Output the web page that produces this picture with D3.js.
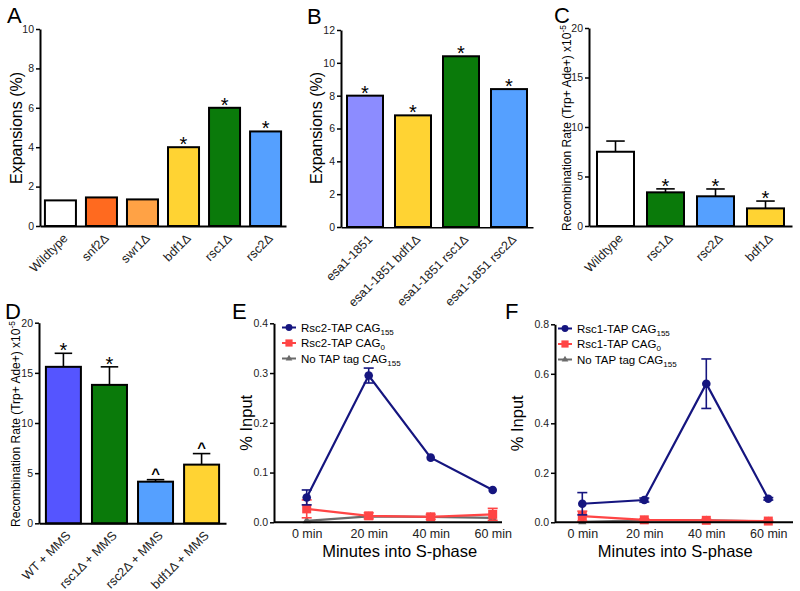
<!DOCTYPE html>
<html><head><meta charset="utf-8">
<script src="https://cdn.jsdelivr.net/npm/d3@7"></script>
<style>
body{margin:0;background:#fff;}
svg{font-family:"Liberation Sans",Arial,Helvetica,sans-serif;}
</style></head>
<body><svg id="c" width="800" height="591"></svg>
<script>
// ---- Panel A ----
const catsA = ["Wildtype","snf2Δ","swr1Δ","bdf1Δ","rsc1Δ","rsc2Δ"];
const valsA = [1.3,1.45,1.35,4.0,6.0,4.8];
const sigA  = ["","","","*","*","*"];
const colA  = ["#ffffff","#ff6a1f","#ffa245","#ffd333","#0a7a0a","#55a0ff"];
const ticksA = [0,2,4,6,8,10];
// ---- Panel B ----
const catsB = ["esa1-1851","esa1-1851 bdf1Δ","esa1-1851 rsc1Δ","esa1-1851 rsc2Δ"];
const valsB = [8.0,6.8,10.4,8.4];
const sigB  = ["*","*","*","*"];
const colB  = ["#8c8cff","#ffd333","#0a7a0a","#55a0ff"];
const ticksB = [0,2,4,6,8,10,12];
// ---- Panel C ----
const catsC = ["Wildtype","rsc1Δ","rsc2Δ","bdf1Δ"];
const valsC = [7.5,3.4,3.0,1.78];
const errC  = [1.08,0.35,0.74,0.74];
const sigC  = ["","*","*","*"];
const colC  = ["#ffffff","#0a7a0a","#55a0ff","#ffd333"];
const ticksC = [0,5,10,15,20];
// ---- Panel D ----
const catsD = ["WT + MMS","rsc1Δ + MMS","rsc2Δ + MMS","bdf1Δ + MMS"];
const valsD = [15.6,13.8,4.15,5.85];
const errD  = [1.35,1.8,0.2,1.1];
const sigD  = ["*","*","^","^"];
const colD  = ["#5555ff","#0a7a0a","#55a0ff","#ffd333"];
const ticksD = [0,5,10,15,20];
// ---- Panel E ----
const timeCats = ["0 min","20 min","40 min","60 min"];
const e1 = [0.05,0.295,0.13,0.065];   const e1err = [0.015,0.015,0,0];
const e2 = [0.027,0.013,0.011,0.016]; const e2err = [0.018,0.006,0.005,0.012];
const e3 = [0.003,0.012,0.011,0.009]; const e3err = [0,0,0,0];
const ticksE = [0,0.1,0.2,0.3,0.4];
const legE = ["Rsc2-TAP CAG|155","Rsc2-TAP CAG|0","No TAP tag CAG|155"];
// ---- Panel F ----
const f1 = [0.075,0.09,0.56,0.095];   const f1err = [0.045,0.008,0.1,0.005];
const f2 = [0.025,0.01,0.008,0.005];  const f2err = [0.02,0.004,0.004,0.003];
const f3 = [0.002,0.008,0.008,0.004]; const f3err = [0,0,0,0];
const ticksF = [0,0.2,0.4,0.6,0.8];
const legF = ["Rsc1-TAP CAG|155","Rsc1-TAP CAG|0","No TAP tag CAG|155"];

const NAVY="#15157f", RED="#ff4545", GRAY="#6a6a6a";
const svg = d3.select("#c");

function letter(t,x,y){
  svg.append("text").attr("x",x).attr("y",y).attr("font-size",22).text(t);
}
function ylabel(g,x,y,size,main,sup){
  const t=g.append("text").attr("transform",`translate(${x},${y}) rotate(-90)`)
    .attr("text-anchor","middle").attr("font-size",size).text(main);
  if(sup){ t.append("tspan").attr("dy",-size*0.4).attr("font-size",size*0.7).text(sup); }
}
function styleAxis(a){
  a.select(".domain").attr("stroke","#000").attr("stroke-width",2);
  a.selectAll(".tick line").attr("stroke","#000").attr("stroke-width",1.5);
  a.selectAll(".tick text").attr("fill","#222");
}

function barPanel(o){
  const g = svg.append("g");
  const x = d3.scaleBand().domain(o.cats).range([o.x0,o.x1]).paddingInner(o.pi).paddingOuter(o.po);
  const y = d3.scaleLinear().domain([0,o.max]).range([o.y0,o.y1]);
  g.selectAll("rect.bar").data(o.vals).join("rect").attr("class","bar")
    .attr("x",(d,i)=>x(o.cats[i])).attr("width",x.bandwidth())
    .attr("y",d=>y(d)).attr("height",d=>y(0)-y(d))
    .attr("fill",(d,i)=>o.cols[i]).attr("stroke","#000").attr("stroke-width",2);
  if(o.err){
    o.vals.forEach((v,i)=>{
      const cx = x(o.cats[i])+x.bandwidth()/2, hw = x.bandwidth()*0.25;
      g.append("line").attr("x1",cx).attr("x2",cx).attr("y1",y(v)).attr("y2",y(v+o.err[i])).attr("stroke","#000").attr("stroke-width",1.6);
      g.append("line").attr("x1",cx-hw).attr("x2",cx+hw).attr("y1",y(v+o.err[i])).attr("y2",y(v+o.err[i])).attr("stroke","#000").attr("stroke-width",1.6);
    });
  }
  o.vals.forEach((v,i)=>{
    const s=o.sig[i]; if(!s) return;
    const top = y(v+(o.err?o.err[i]:0));
    const cx = x(o.cats[i])+x.bandwidth()/2;
    if(s==="*") g.append("text").attr("x",cx).attr("y",top+4).attr("text-anchor","middle").attr("font-size",20).text("*");
    else g.append("text").attr("x",cx).attr("y",top-1).attr("text-anchor","middle").attr("font-size",15).attr("font-weight","bold").text("^");
  });
  const ya = g.append("g").attr("transform",`translate(${o.x0},0)`)
    .call(d3.axisLeft(y).tickValues(o.ticks).tickSize(4).tickSizeOuter(0).tickPadding(2).tickFormat(d3.format("d")));
  ya.attr("font-size",10.5).attr("font-family",null);
  styleAxis(ya);
  const xa = g.append("g").attr("transform",`translate(0,${o.y0})`)
    .call(d3.axisBottom(x).tickSize(0).tickSizeOuter(0));
  xa.attr("font-size",12.5).attr("font-family",null);
  styleAxis(xa);
  xa.selectAll(".tick text").attr("x",0).attr("y",0).attr("dy","0.35em")
    .attr("transform","translate(5,10) rotate(-45)").style("text-anchor","end");
  if(o.clipY){
    const id="clip"+Math.round(o.x0);
    svg.append("clipPath").attr("id",id).append("rect").attr("x",o.x0-100).attr("y",0).attr("width",400).attr("height",o.clipY);
    xa.attr("clip-path",`url(#${id})`);
  }
  ylabel(g,o.lx,o.ly,o.lsize,o.label,o.sup);
}

function linePanel(o){
  const g = svg.append("g");
  const x = d3.scalePoint().domain(timeCats).range([o.px0,o.px1]);
  const y = d3.scaleLinear().domain([0,o.max]).range([o.y0,o.y1]);
  const series=[
    {v:o.s3,e:o.e3,c:GRAY,m:"tri"},
    {v:o.s2,e:o.e2,c:RED,m:"sq"},
    {v:o.s1,e:o.e1,c:NAVY,m:"circ"}
  ];
  const line = d3.line().x((d,i)=>x(timeCats[i])).y(d=>y(d));
  series.forEach(s=>{
    g.append("path").attr("d",line(s.v)).attr("fill","none").attr("stroke",s.c).attr("stroke-width",2.2);
    s.v.forEach((v,i)=>{
      const cx=x(timeCats[i]); const er=s.e[i];
      if(er>0){
        g.append("line").attr("x1",cx).attr("x2",cx).attr("y1",y(v-er)).attr("y2",y(v+er)).attr("stroke",s.c).attr("stroke-width",1.6);
        [v-er,v+er].forEach(t=>g.append("line").attr("x1",cx-5).attr("x2",cx+5).attr("y1",y(t)).attr("y2",y(t)).attr("stroke",s.c).attr("stroke-width",1.6));
      }
      marker(g,s.m,cx,y(v),s.c,1);
    });
  });
  const ya = g.append("g").attr("transform",`translate(${o.x0},0)`)
    .call(d3.axisLeft(y).tickValues(o.ticks).tickSize(4).tickSizeOuter(0).tickPadding(2).tickFormat(d3.format(".1f")));
  ya.attr("font-size",10.5).attr("font-family",null);
  styleAxis(ya);
  const xa = g.append("g").attr("transform",`translate(0,${o.y0})`)
    .call(d3.axisBottom(x).tickSize(0).tickSizeOuter(0).tickPadding(7));
  xa.attr("font-size",12.5).attr("font-family",null);
  styleAxis(xa);
  xa.select(".domain").attr("d",`M${o.x0},0H${o.x1}`);
  g.append("text").attr("x",(o.px0+o.px1)/2).attr("y",o.y0+35).attr("text-anchor","middle").attr("font-size",16.5).text("Minutes into S-phase");
  ylabel(g,o.lx,(o.y0+o.y1)/2,16.5,"% Input");
  const cols=[NAVY,RED,GRAY], ms=["circ","sq","tri"];
  o.leg.forEach((L,i)=>{
    const ly=o.ly+i*15.5;
    g.append("line").attr("x1",o.lmx-7).attr("x2",o.lmx+7).attr("y1",ly).attr("y2",ly).attr("stroke",cols[i]).attr("stroke-width",2);
    marker(g,ms[i],o.lmx,ly,cols[i],0.8);
    const [a,b]=L.split("|");
    const t=g.append("text").attr("x",o.lmx+12).attr("y",ly+4).attr("font-size",11.5).text(a);
    t.append("tspan").attr("dy",3).attr("font-size",8).text(b);
  });
}
function marker(g,m,cx,cy,c,k){
  if(m==="circ") g.append("circle").attr("cx",cx).attr("cy",cy).attr("r",4.3*k).attr("fill",c);
  else if(m==="sq") g.append("rect").attr("x",cx-4.5*k).attr("y",cy-4.5*k).attr("width",9*k).attr("height",9*k).attr("fill",c);
  else g.append("path").attr("d",d3.symbol(d3.symbolTriangle,30*k*k)()).attr("transform",`translate(${cx},${cy})`).attr("fill",c);
}

letter("A",7,23); letter("B",307,24); letter("C",554,23);
letter("D",5,319); letter("E",232,319); letter("F",505,319);

barPanel({cats:catsA,vals:valsA,sig:sigA,cols:colA,ticks:ticksA,max:10,
  x0:40,x1:286,pi:0.244,po:0.12,y0:226,y1:29,lx:22,ly:128,lsize:16,label:"Expansions (%)"});
barPanel({cats:catsB,vals:valsB,sig:sigB,cols:colB,ticks:ticksB,max:12,
  x0:341,x1:533,pi:0.25,po:0.125,y0:227,y1:30,lx:322,ly:128,lsize:16,label:"Expansions (%)",clipY:300});
barPanel({cats:catsC,vals:valsC,err:errC,sig:sigC,cols:colC,ticks:ticksC,max:20,
  x0:589,x1:792,pi:0.26,po:0.16,y0:226,y1:28,lx:571,ly:128,lsize:12,label:"Recombination Rate (Trp+ Ade+) x10",sup:"-5"});
barPanel({cats:catsD,vals:valsD,err:errD,sig:sigD,cols:colD,ticks:ticksD,max:20,
  x0:39,x1:226,pi:0.24,po:0.15,y0:523.3,y1:322.7,lx:20,ly:424,lsize:12,label:"Recombination Rate (Trp+ Ade+) x10",sup:"-5"});
linePanel({s1:e1,e1:e1err,s2:e2,e2:e2err,s3:e3,e3:e3err,ticks:ticksE,max:0.4,
  x0:274,x1:502,px0:306.7,px1:492.7,y0:522.3,y1:323.3,lx:252,leg:legE,lmx:289,ly:327.5});
linePanel({s1:f1,e1:f1err,s2:f2,e2:f2err,s3:f3,e3:f3err,ticks:ticksF,max:0.8,
  x0:555,x1:793,px0:582.3,px1:768.3,y0:522.3,y1:324.3,lx:523,leg:legF,lmx:565,ly:328.5});
</script></body></html>
